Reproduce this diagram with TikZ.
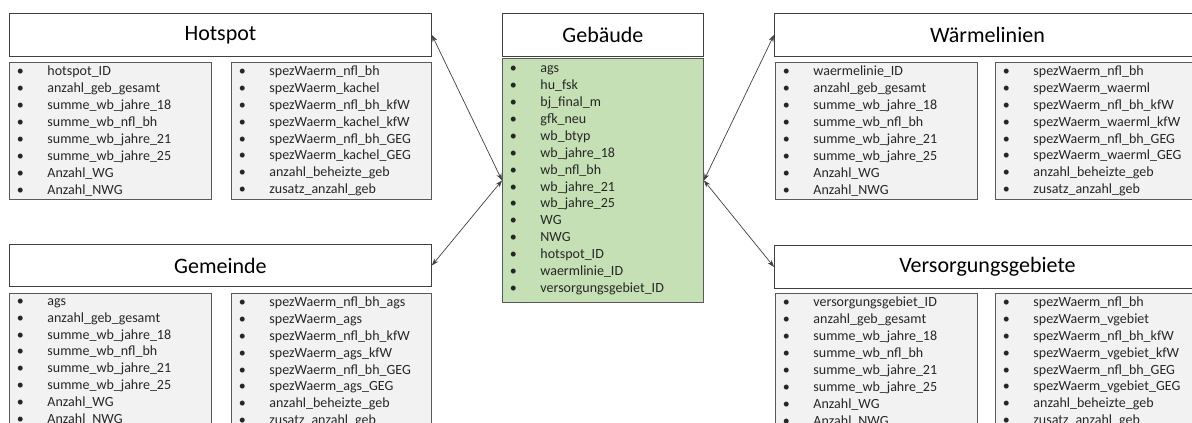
\documentclass[tikz,border=0pt]{standalone}
\usepackage{fontspec}
\setmainfont{Carlito}
\usepackage{tikz}
\usetikzlibrary{arrows.meta, positioning}
\definecolor{framegray}{HTML}{404040}
\definecolor{listgray}{HTML}{F2F2F2}
\definecolor{listframe}{HTML}{595959}
\definecolor{softgreen}{HTML}{C5E0B4}
\definecolor{textgray}{HTML}{262626}
\newcommand{\itm}[1]{\makebox[30.5pt][l]{\textbullet}#1}

\begin{document}
\begin{tikzpicture}[
    x=1pt, y=-1pt,
    titlebox/.style={rectangle, draw=framegray, fill=white, line width=0.9pt, inner sep=0pt, anchor=north west, font=\fontsize{22}{26}\selectfont, text=black},
    listbox/.style={rectangle, draw=listframe, fill=listgray, line width=0.9pt, inner xsep=7.5pt, inner ysep=0pt, anchor=north west, align=left, font=\fontsize{14}{16.9}\selectfont, text=textgray},
    mainlist/.style={listbox, fill=softgreen},
    arrow/.style={line width=0.7pt, color=framegray, {Stealth[length=7pt,width=5pt]}-{Stealth[length=7pt,width=5pt]}}
]
\useasboundingbox (0,0) rectangle (1192,423);
\clip (0,0) rectangle (1192,423);

% Gebaeude (Mitte)
\node[titlebox, minimum width=201pt, minimum height=43pt] (gebaeude) at (502,13) {Gebäude};
\node[mainlist, text width=186pt, minimum height=244pt] (gebaeudeliste) at (502,58) {%
\itm{ags}\\ \itm{hu\_fsk}\\ \itm{bj\_final\_m}\\ \itm{gfk\_neu}\\ \itm{wb\_btyp}\\
\itm{wb\_jahre\_18}\\ \itm{wb\_nfl\_bh}\\ \itm{wb\_jahre\_21}\\ \itm{wb\_jahre\_25}\\
\itm{WG}\\ \itm{NWG}\\ \itm{hotspot\_ID}\\ \itm{waermlinie\_ID}\\ \itm{versorgungsgebiet\_ID}};

% Hotspot
\node[titlebox, minimum width=422pt, minimum height=43pt] (hotspot) at (9,13) {Hotspot};
\node[listbox, text width=187pt, minimum height=137pt] (hotspotA) at (9,62) {%
\itm{hotspot\_ID}\\ \itm{anzahl\_geb\_gesamt}\\ \itm{summe\_wb\_jahre\_18}\\ \itm{summe\_wb\_nfl\_bh}\\
\itm{summe\_wb\_jahre\_21}\\ \itm{summe\_wb\_jahre\_25}\\ \itm{Anzahl\_WG}\\ \itm{Anzahl\_NWG}};
\node[listbox, text width=185pt, minimum height=137pt] (hotspotB) at (231,62) {%
\itm{spezWaerm\_nfl\_bh}\\ \itm{spezWaerm\_kachel}\\ \itm{spezWaerm\_nfl\_bh\_kfW}\\ \itm{spezWaerm\_kachel\_kfW}\\
\itm{spezWaerm\_nfl\_bh\_GEG}\\ \itm{spezWaerm\_kachel\_GEG}\\ \itm{anzahl\_beheizte\_geb}\\ \itm{zusatz\_anzahl\_geb}};

% Gemeinde
\node[titlebox, minimum width=422pt, minimum height=42pt] (gemeinde) at (9,244) {Gemeinde};
\node[listbox, text width=187pt, minimum height=137pt] (gemeindeA) at (9,293) {%
\itm{ags}\\ \itm{anzahl\_geb\_gesamt}\\ \itm{summe\_wb\_jahre\_18}\\ \itm{summe\_wb\_nfl\_bh}\\
\itm{summe\_wb\_jahre\_21}\\ \itm{summe\_wb\_jahre\_25}\\ \itm{Anzahl\_WG}\\ \itm{Anzahl\_NWG}};
\node[listbox, text width=185pt, minimum height=137pt] (gemeindeB) at (231,293) {%
\itm{spezWaerm\_nfl\_bh\_ags}\\ \itm{spezWaerm\_ags}\\ \itm{spezWaerm\_nfl\_bh\_kfW}\\ \itm{spezWaerm\_ags\_kfW}\\
\itm{spezWaerm\_nfl\_bh\_GEG}\\ \itm{spezWaerm\_ags\_GEG}\\ \itm{anzahl\_beheizte\_geb}\\ \itm{zusatz\_anzahl\_geb}};

% Waermelinien
\node[titlebox, minimum width=426pt, minimum height=43pt] (waermelinien) at (774,13) {Wärmelinien};
\node[listbox, text width=187pt, minimum height=137pt] (waermelinienA) at (775,62) {%
\itm{waermelinie\_ID}\\ \itm{anzahl\_geb\_gesamt}\\ \itm{summe\_wb\_jahre\_18}\\ \itm{summe\_wb\_nfl\_bh}\\
\itm{summe\_wb\_jahre\_21}\\ \itm{summe\_wb\_jahre\_25}\\ \itm{Anzahl\_WG}\\ \itm{Anzahl\_NWG}};
\node[listbox, text width=187pt, minimum height=137pt] (waermelinienB) at (995,62) {%
\itm{spezWaerm\_nfl\_bh}\\ \itm{spezWaerm\_waerml}\\ \itm{spezWaerm\_nfl\_bh\_kfW}\\ \itm{spezWaerm\_waerml\_kfW}\\
\itm{spezWaerm\_nfl\_bh\_GEG}\\ \itm{spezWaerm\_waerml\_GEG}\\ \itm{anzahl\_beheizte\_geb}\\ \itm{zusatz\_anzahl\_geb}};

% Versorgungsgebiete
\node[titlebox, minimum width=426pt, minimum height=43pt] (versorgung) at (774,245) {Versorgungsgebiete};
\node[listbox, text width=187pt, minimum height=137pt] (versorgungA) at (775,293) {%
\itm{versorgungsgebiet\_ID}\\ \itm{anzahl\_geb\_gesamt}\\ \itm{summe\_wb\_jahre\_18}\\ \itm{summe\_wb\_nfl\_bh}\\
\itm{summe\_wb\_jahre\_21}\\ \itm{summe\_wb\_jahre\_25}\\ \itm{Anzahl\_WG}\\ \itm{Anzahl\_NWG}};
\node[listbox, text width=187pt, minimum height=137pt] (versorgungB) at (995,293) {%
\itm{spezWaerm\_nfl\_bh}\\ \itm{spezWaerm\_vgebiet}\\ \itm{spezWaerm\_nfl\_bh\_kfW}\\ \itm{spezWaerm\_vgebiet\_kfW}\\
\itm{spezWaerm\_nfl\_bh\_GEG}\\ \itm{spezWaerm\_vgebiet\_GEG}\\ \itm{anzahl\_beheizte\_geb}\\ \itm{zusatz\_anzahl\_geb}};

% Verbindungen
\draw[arrow] (hotspot.east) -- (gebaeudeliste.west);
\draw[arrow] (gemeinde.east) -- (gebaeudeliste.west);
\draw[arrow] (waermelinien.west) -- (gebaeudeliste.east);
\draw[arrow] (versorgung.west) -- (gebaeudeliste.east);

\end{tikzpicture}
\end{document}
